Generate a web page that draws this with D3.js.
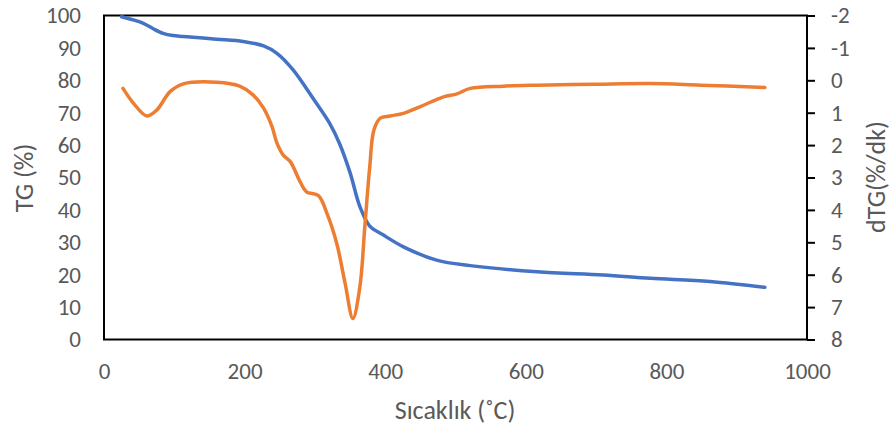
<!DOCTYPE html>
<html>
<head>
<meta charset="utf-8">
<script src="https://cdn.jsdelivr.net/npm/d3@7"></script>
<style>
  body { margin: 0; background: #fff; }
  text { font-family: Carlito, Lato, "Open Sans", sans-serif; fill: #595959; }
</style>
</head>
<body>
<div id="chart"></div>
<script>
// TG curve (left axis, %)
var tgTemp = [25, 56, 70, 84, 98, 113, 160, 198, 227, 246, 269, 298, 321, 335, 350, 364, 378, 397, 426, 473, 521, 616, 710, 777, 862, 940];
var tgValue = [99.6, 97.6, 95.9, 94.5, 93.8, 93.5, 92.7, 92, 90.6, 88.3, 83.2, 74.2, 66.7, 60.5, 51.5, 41, 35, 32.3, 28.6, 24.5, 22.8, 20.9, 19.9, 18.9, 17.9, 16.1];

// dTG curve (right axis, %/dk)
var dtgTemp = [27, 42, 61, 75, 94, 113, 160, 193, 212, 227, 239, 246, 255, 265, 279, 288, 305, 317, 331, 343, 354, 364, 371, 378, 384, 393, 407, 426, 450, 483, 502, 521, 568, 616, 700, 777, 848, 940];
var dtgValue = [0.25, 0.71, 1.10, 0.92, 0.35, 0.11, 0.06, 0.18, 0.45, 0.86, 1.43, 1.94, 2.31, 2.51, 3.13, 3.44, 3.56, 4.1, 5.03, 6.27, 7.35, 6.37, 4.52, 2.67, 1.53, 1.17, 1.10, 1.02, 0.81, 0.51, 0.42, 0.25, 0.18, 0.15, 0.12, 0.10, 0.15, 0.22];

var xTicks = [0, 200, 400, 600, 800, 1000];
var yLeftTicks = [0, 10, 20, 30, 40, 50, 60, 70, 80, 90, 100];
var yRightTicks = [-2, -1, 0, 1, 2, 3, 4, 5, 6, 7, 8];

var margin = { top: 15.5, right: 84, bottom: 97.5, left: 104 };
var width = 891 - margin.left - margin.right;
var height = 437 - margin.top - margin.bottom;

var svg = d3
  .select("#chart")
  .append("svg")
  .attr("width", 891)
  .attr("height", 437);

var g = svg.append("g")
  .attr("transform", "translate(" + margin.left + "," + margin.top + ")");

var x = d3.scaleLinear().domain([0, 1000]).range([0, width]);
var yLeft = d3.scaleLinear().domain([0, 100]).range([height, 0]);
var yRight = d3.scaleLinear().domain([-2, 8]).range([0, height]);

var plain = function (d) { return String(d); };

// left axis (no ticks)
var leftAxis = g.append("g")
  .call(d3.axisLeft(yLeft).tickValues(yLeftTicks).tickFormat(plain).tickSize(0).tickPadding(23));
leftAxis.select(".domain").remove();
leftAxis.selectAll("text").style("font-size", "23px").attr("fill", "#595959");

// bottom axis (no ticks)
var bottomAxis = g.append("g")
  .attr("transform", "translate(0," + height + ")")
  .call(d3.axisBottom(x).tickValues(xTicks).tickFormat(plain).tickSize(0).tickPadding(23));
bottomAxis.select(".domain").remove();
bottomAxis.selectAll("text").style("font-size", "23px").attr("fill", "#595959");

// right axis with outward ticks
var rightAxis = g.append("g")
  .attr("transform", "translate(" + width + ",0)")
  .call(d3.axisRight(yRight).tickValues(yRightTicks).tickFormat(plain).tickSizeInner(8).tickSizeOuter(0).tickPadding(16));
rightAxis.select(".domain").remove();
rightAxis.selectAll("line").attr("stroke", "#000").attr("stroke-width", 2);
rightAxis.selectAll("text").style("font-size", "23px").attr("fill", "#595959");

// plot border
g.append("rect")
  .attr("x", 0)
  .attr("y", 0)
  .attr("width", width)
  .attr("height", height)
  .attr("fill", "none")
  .attr("stroke", "#000")
  .attr("stroke-width", 2);

var tgLine = d3.line()
  .x(function (d) { return x(d[0]); })
  .y(function (d) { return yLeft(d[1]); })
  .curve(d3.curveCatmullRom.alpha(0.5));

var dtgLine = d3.line()
  .x(function (d) { return x(d[0]); })
  .y(function (d) { return yRight(d[1]); })
  .curve(d3.curveCatmullRom.alpha(0.5));

g.append("path")
  .datum(d3.zip(tgTemp, tgValue))
  .attr("d", tgLine)
  .attr("fill", "none")
  .attr("stroke", "#4472C4")
  .attr("stroke-width", 3.5)
  .attr("stroke-linecap", "round");

g.append("path")
  .datum(d3.zip(dtgTemp, dtgValue))
  .attr("d", dtgLine)
  .attr("fill", "none")
  .attr("stroke", "#ED7D31")
  .attr("stroke-width", 3.5)
  .attr("stroke-linecap", "round")
  .attr("stroke-linejoin", "round");

// axis titles
svg.append("text")
  .attr("transform", "translate(33,178) rotate(-90)")
  .attr("text-anchor", "middle")
  .style("font-size", "26px")
  .text("TG (%)");

svg.append("text")
  .attr("transform", "translate(885,177) rotate(-90)")
  .attr("text-anchor", "middle")
  .style("font-size", "26px")
  .text("dTG(%/dk)");

svg.append("text")
  .attr("x", 455)
  .attr("y", 419)
  .attr("text-anchor", "middle")
  .style("font-size", "26px")
  .text("Sıcaklık (˚C)");
</script>
</body>
</html>
